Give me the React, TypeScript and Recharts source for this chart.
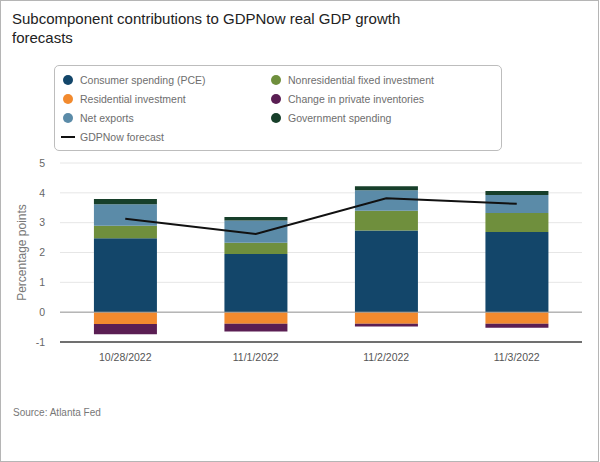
import {
    ComposedChart,
    Bar,
    Line,
    XAxis,
    YAxis,
    CartesianGrid,
    ReferenceLine,
} from 'recharts';

// Forecast dates
const dates = ['10/28/2022', '11/1/2022', '11/2/2022', '11/3/2022'];

// Contributions, percentage points
const pce = [2.48, 1.95, 2.74, 2.69];
const residential = [-0.4, -0.39, -0.39, -0.39];
const netExports = [0.72, 0.74, 0.69, 0.61];
const nonresidential = [0.42, 0.38, 0.66, 0.63];
const inventories = [-0.34, -0.26, -0.09, -0.13];
const government = [0.17, 0.12, 0.13, 0.13];
const forecast = [3.13, 2.62, 3.82, 3.63];

const yTicks = [-1, 0, 1, 2, 3, 4, 5];

const series = [
    { key: 'pce', name: 'Consumer spending (PCE)', color: '#13466a' },
    { key: 'nonres', name: 'Nonresidential fixed investment', color: '#6f8f3d' },
    { key: 'resi', name: 'Residential investment', color: '#f28a2e' },
    { key: 'inv', name: 'Change in private inventories', color: '#5a1e53' },
    { key: 'netx', name: 'Net exports', color: '#5b8ba8' },
    { key: 'gov', name: 'Government spending', color: '#173f2a' },
];

const colorOf = (key: string) => series.find((s) => s.key === key)!.color;

const data = dates.map((date, i) => ({
    date,
    pce: pce[i],
    resi: residential[i],
    netx: netExports[i],
    nonres: nonresidential[i],
    inv: inventories[i],
    gov: government[i],
    forecast: forecast[i],
}));

const font = '"Liberation Sans", Arial, sans-serif';

function LegendBox() {
    return (
        <div
            style={{
                position: 'absolute',
                left: 53,
                top: 64,
                width: 448,
                height: 86,
                border: '1px solid #bdbdbd',
                borderRadius: 5,
                boxSizing: 'border-box',
                fontSize: 10.5,
                color: '#6e6e6e',
            }}
        >
            {series.map((s, i) => (
                <div
                    key={s.key}
                    style={{
                        position: 'absolute',
                        left: i % 2 === 0 ? 8 : 216,
                        top: 6 + Math.floor(i / 2) * 19,
                        display: 'flex',
                        alignItems: 'center',
                        height: 16,
                    }}
                >
                    <span
                        style={{
                            width: 10,
                            height: 10,
                            borderRadius: 5,
                            background: s.color,
                            marginRight: 7,
                        }}
                    />
                    {s.name}
                </div>
            ))}
            <div
                style={{
                    position: 'absolute',
                    left: 6,
                    top: 63,
                    display: 'flex',
                    alignItems: 'center',
                    height: 16,
                }}
            >
                <span style={{ width: 14, height: 2, background: '#111', marginRight: 5 }} />
                GDPNow forecast
            </div>
        </div>
    );
}

export default function App() {
    return (
        <div
            style={{
                position: 'absolute',
                left: 0,
                top: 0,
                width: 599,
                height: 462,
                border: '1px solid #b5b5b5',
                boxSizing: 'border-box',
                background: '#fff',
                fontFamily: font,
                overflow: 'hidden',
            }}
        >
            <div
                style={{
                    position: 'absolute',
                    left: 11,
                    top: 8,
                    width: 420,
                    fontSize: 15,
                    lineHeight: '19px',
                    color: '#222',
                }}
            >
                Subcomponent contributions to GDPNow real GDP growth forecasts
            </div>
            <LegendBox />
            <div style={{ position: 'absolute', left: -1, top: -1 }}>
                <ComposedChart
                    width={600}
                    height={380}
                    data={data}
                    stackOffset="sign"
                    barCategoryGap="26%"
                    margin={{ top: 163, right: 18, left: 0, bottom: 8 }}
                >
                    <CartesianGrid vertical={false} stroke="#e6e6e6" />
                    <XAxis
                        dataKey="date"
                        height={30}
                        axisLine={{ stroke: '#707070', strokeWidth: 2 }}
                        tickLine={false}
                        tickMargin={6}
                        tick={{ fill: '#555', fontSize: 10.5, fontFamily: font }}
                    />
                    <YAxis
                        width={60}
                        domain={[-1, 5]}
                        ticks={yTicks}
                        axisLine={false}
                        tickLine={false}
                        tickMargin={9}
                        tick={{ fill: '#666', fontSize: 10.5, fontFamily: font }}
                        label={{
                            value: 'Percentage points',
                            angle: -90,
                            position: 'insideLeft',
                            offset: 22,
                            style: { textAnchor: 'middle', fill: '#777', fontSize: 12, fontFamily: font },
                        }}
                    />
                    <ReferenceLine y={0} stroke="#9a9a9a" />
                    <Bar dataKey="pce" stackId="a" fill={colorOf('pce')} isAnimationActive={false} />
                    <Bar dataKey="nonres" stackId="a" fill={colorOf('nonres')} isAnimationActive={false} />
                    <Bar dataKey="netx" stackId="a" fill={colorOf('netx')} isAnimationActive={false} />
                    <Bar dataKey="gov" stackId="a" fill={colorOf('gov')} isAnimationActive={false} />
                    <Bar dataKey="resi" stackId="a" fill={colorOf('resi')} isAnimationActive={false} />
                    <Bar dataKey="inv" stackId="a" fill={colorOf('inv')} isAnimationActive={false} />
                    <Line
                        dataKey="forecast"
                        type="linear"
                        stroke="#111"
                        strokeWidth={2}
                        dot={false}
                        isAnimationActive={false}
                    />
                </ComposedChart>
            </div>
            <div
                style={{
                    position: 'absolute',
                    left: 12,
                    top: 406,
                    fontSize: 10,
                    color: '#777',
                }}
            >
                Source: Atlanta Fed
            </div>
        </div>
    );
}
